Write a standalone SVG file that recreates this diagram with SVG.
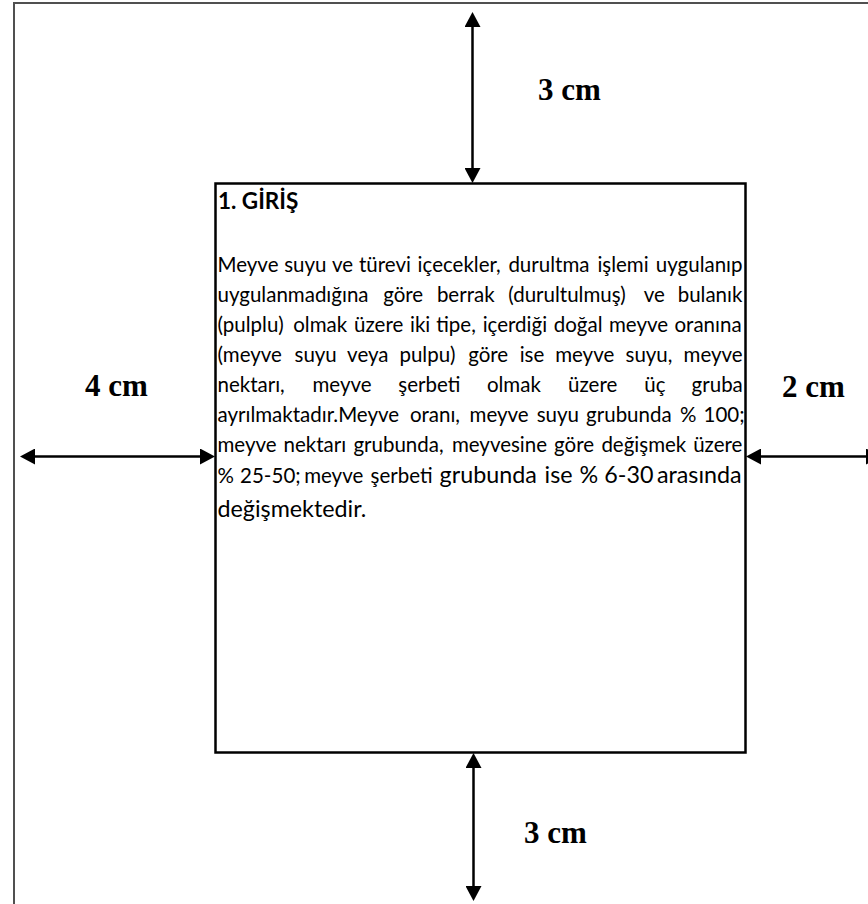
<svg xmlns="http://www.w3.org/2000/svg" width="868" height="904" viewBox="0 0 868 904">
<style>
.frame{fill:none;stroke:#505050;stroke-width:2}
.box{fill:#fff;stroke:#000;stroke-width:2.5}
.t{font-family:Lato,"Open Sans","Liberation Sans",sans-serif;font-size:20.5px;fill:#000}
.big{font-size:23.3px}
.h{font-family:Lato,"Open Sans","Liberation Sans",sans-serif;font-weight:bold;font-size:22.5px;fill:#000}
.dim{font-family:"Liberation Serif","Times New Roman",serif;font-weight:bold;font-size:31px;fill:#000}
.arrow{stroke:#000;stroke-width:2.5;fill:none;marker-start:url(#ah);marker-end:url(#ah)}
</style>
<defs>
<marker id="ah" viewBox="0 0 15 16" refX="5" refY="8" markerWidth="15" markerHeight="16" markerUnits="userSpaceOnUse" orient="auto-start-reverse">
<path d="M0,0 L15,8 L0,16 z" fill="#000"/>
</marker>
</defs>
<rect width="868" height="904" fill="#fff"/>
<g id="page-frame">
<path class="frame" d="M14,910 L14,3 L872,3"/>
</g>
<g id="text-block">
<rect class="box" x="215.5" y="183.5" width="530" height="569"/>
<text class="h" x="218" y="209">1. GİRİŞ</text>
<text class="t" y="271.5"><tspan x="217.5">Meyve</tspan> <tspan x="284.2">suyu</tspan> <tspan x="332">ve</tspan> <tspan x="359">türevi</tspan> <tspan x="417.6">içecekler,</tspan> <tspan x="508.4">durultma</tspan> <tspan x="597.4">işlemi</tspan> <tspan x="655.8">uygulanıp</tspan></text>
<text class="t" y="301.5"><tspan x="217.5">uygulanmadığına</tspan> <tspan x="383.2">göre</tspan> <tspan x="436.9">berrak</tspan> <tspan x="508.3">(durultulmuş)</tspan> <tspan x="643.8">ve</tspan> <tspan x="677.7">bulanık</tspan></text>
<text class="t" y="331.5"><tspan x="217.5">(pulplu)</tspan> <tspan x="293.2">olmak</tspan> <tspan x="354.1">üzere</tspan> <tspan x="410">iki</tspan> <tspan x="436.2">tipe,</tspan> <tspan x="482.7">içerdiği</tspan> <tspan x="553.8">doğal</tspan> <tspan x="609">meyve</tspan> <tspan x="674.5">oranına</tspan></text>
<text class="t" y="361.5"><tspan x="217.5">(meyve</tspan> <tspan x="294.5">suyu</tspan> <tspan x="347.1">veya</tspan> <tspan x="399.4">pulpu)</tspan> <tspan x="468.2">göre</tspan> <tspan x="519.7">ise</tspan> <tspan x="555.2">meyve</tspan> <tspan x="625.5">suyu,</tspan> <tspan x="683.6">meyve</tspan></text>
<text class="t" y="391.5"><tspan x="217.5">nektarı,</tspan> <tspan x="312.5">meyve</tspan> <tspan x="398.3">şerbeti</tspan> <tspan x="486.9">olmak</tspan> <tspan x="568.1">üzere</tspan> <tspan x="644.3">üç</tspan> <tspan x="691.6">gruba</tspan></text>
<text class="t" y="421.5"><tspan x="217.5">ayrılmaktadır.Meyve</tspan> <tspan x="409.9">oranı,</tspan> <tspan x="469.6">meyve</tspan> <tspan x="536.7">suyu</tspan> <tspan x="586.1">grubunda</tspan> <tspan x="680.1">%</tspan> <tspan x="703.5">100;</tspan></text>
<text class="t" y="451.5"><tspan x="217.5">meyve</tspan> <tspan x="283.6">nektarı</tspan> <tspan x="353.4">grubunda,</tspan> <tspan x="451.9">meyvesine</tspan> <tspan x="554.1">göre</tspan> <tspan x="601.4">değişmek</tspan> <tspan x="693.2">üzere</tspan></text>
<text class="t" y="482.5"><tspan x="217.5">%</tspan> <tspan x="240.1">25-50;</tspan> <tspan x="304.2">meyve</tspan> <tspan x="370.5">şerbeti</tspan> <tspan class="big" x="439.6">grubunda</tspan> <tspan class="big" x="544.6">ise</tspan> <tspan class="big" x="579.5">%</tspan> <tspan class="big" x="604.3">6-30</tspan> <tspan class="big" x="656.9">arasında</tspan></text>
<text class="t big" x="217.5" y="517">değişmektedir.</text>
</g>
<g id="connectors">
<path id="arrow-top" class="arrow" d="M472.5,22 L472.5,173"/>
<path id="arrow-bottom" class="arrow" d="M473.5,763 L473.5,891"/>
<path id="arrow-left" class="arrow" d="M30,456.5 L205,456.5"/>
<path id="arrow-right" class="arrow" d="M756,456.5 L871,456.5"/>
</g>
<g id="labels">
<text class="dim" x="538" y="100">3 cm</text>
<text class="dim" x="85" y="396">4 cm</text>
<text class="dim" x="782" y="397">2 cm</text>
<text class="dim" x="524" y="843">3 cm</text>
</g>
</svg>
